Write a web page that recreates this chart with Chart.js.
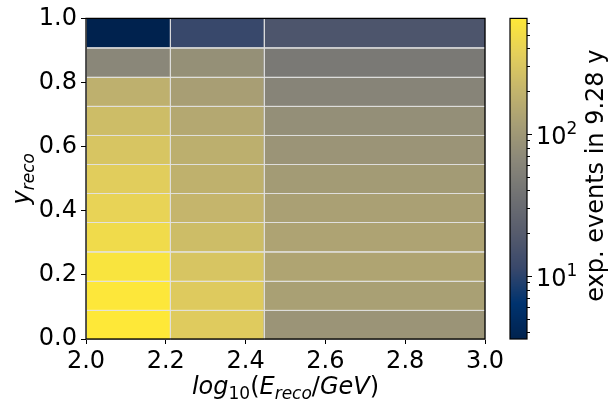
<!DOCTYPE html>
<html>
<head>
<meta charset="utf-8">
<script src="https://cdn.jsdelivr.net/npm/chart.js@4.4.1/dist/chart.umd.min.js"></script>
<style>
  body { margin: 0; background: #fff; }
  #wrap { width: 615px; height: 400px; }
</style>
</head>
<body>
<div id="wrap"><canvas id="hist" width="615" height="400"></canvas></div>
<script>
// Bordes de los bins
const xEdges = [2.0, 2.21, 2.445, 3.0];
const yEdges = [0, 0.0909, 0.1818, 0.2727, 0.3636, 0.4545, 0.5455, 0.6364, 0.7273, 0.8182, 0.9091, 1.0];

// Eventos esperados por bin (de y=0 hacia arriba), una lista por bin de energía
const countsLow  = [650, 633, 586, 476, 399, 348, 290, 242, 182, 65, 3.6];
const countsMid  = [331, 328, 290, 242, 207, 187, 177, 151, 119, 81, 11.3];
const countsHigh = [92, 123, 137, 133, 125, 108, 92, 80, 60, 45, 16.8];
const columns = [countsLow, countsMid, countsHigh];

// Ticks
const xTicks = [2.0, 2.2, 2.4, 2.6, 2.8, 3.0];
const yTicks = [0.0, 0.2, 0.4, 0.6, 0.8, 1.0];
const cbMajor = [10, 100];
const cbMinor = [4, 5, 6, 7, 8, 9, 20, 30, 40, 50, 60, 70, 80, 90, 200, 300, 400, 500, 600];
const cbMin = 3.6;
const cbMax = 650;

const FONT = "'DejaVu Sans'";

// Mapa de colores cividis
const cividis = [
    [0, 34, 78], [0, 51, 111], [57, 72, 107], [87, 92, 109], [112, 113, 115],
    [138, 135, 121], [166, 157, 117], [196, 181, 108], [228, 207, 91], [254, 232, 56]
];

function cmap(t) {
    t = Math.min(1, Math.max(0, t));
    const p = t * (cividis.length - 1);
    const i = Math.min(Math.floor(p), cividis.length - 2);
    const f = p - i;
    const a = cividis[i], b = cividis[i + 1];
    const c = a.map((v, k) => Math.round(v + (b[k] - v) * f));
    return 'rgb(' + c.join(',') + ')';
}

function norm(v) {
    return (Math.log10(v) - Math.log10(cbMin)) / (Math.log10(cbMax) - Math.log10(cbMin));
}

// Texto tipo mathtext: [texto, cursiva, desplazamiento (1 = subíndice, -1 = superíndice)]
function drawMath(ctx, parts, x, y, align) {
    const big = 24, small = 17;
    const fontOf = p => (p[1] ? 'italic ' : '') + (p[2] ? small : big) + 'px ' + FONT;
    let w = 0;
    parts.forEach(p => { ctx.font = fontOf(p); w += ctx.measureText(p[0]).width; });
    let cx = align === 'left' ? x : x - w / 2;
    ctx.textAlign = 'left';
    ctx.textBaseline = 'alphabetic';
    parts.forEach(p => {
        ctx.font = fontOf(p);
        const dy = p[2] === 1 ? 5 : (p[2] === -1 ? -10 : 0);
        ctx.fillText(p[0], cx, y + dy);
        cx += ctx.measureText(p[0]).width;
    });
}

const histPlugin = {
    id: 'hist2d',
    beforeDatasetsDraw(chart) {
        const ctx = chart.ctx;
        const xs = chart.scales.x, ys = chart.scales.y;
        ctx.save();
        columns.forEach((col, i) => {
            const x0 = xs.getPixelForValue(xEdges[i]);
            const x1 = xs.getPixelForValue(xEdges[i + 1]);
            col.forEach((v, j) => {
                const y0 = ys.getPixelForValue(yEdges[j + 1]);
                const y1 = ys.getPixelForValue(yEdges[j]);
                ctx.fillStyle = cmap(norm(v));
                ctx.fillRect(x0, y0, x1 - x0, y1 - y0);
            });
        });
        // bordes de las celdas
        ctx.strokeStyle = 'rgba(225,225,225,0.75)';
        ctx.lineWidth = 1;
        columns.forEach((col, i) => {
            const x0 = xs.getPixelForValue(xEdges[i]);
            const x1 = xs.getPixelForValue(xEdges[i + 1]);
            col.forEach((v, j) => {
                const y0 = ys.getPixelForValue(yEdges[j + 1]);
                const y1 = ys.getPixelForValue(yEdges[j]);
                ctx.strokeRect(Math.round(x0) + 0.5, Math.round(y0) + 0.5, Math.round(x1 - x0), Math.round(y1 - y0));
            });
        });
        ctx.restore();
    },
    afterDraw(chart) {
        const ctx = chart.ctx;
        const a = chart.chartArea;
        const cb = chart.scales.cb;
        ctx.save();

        // marco del gráfico
        ctx.strokeStyle = '#000';
        ctx.lineWidth = 1.3;
        ctx.strokeRect(a.left, a.top, a.right - a.left, a.bottom - a.top);

        // barra de color
        const cbLeft = 510, cbRight = 527;
        for (let py = Math.floor(cb.top); py < cb.bottom; py++) {
            ctx.fillStyle = cmap(norm(cb.getValueForPixel(py + 0.5)));
            ctx.fillRect(cbLeft, py, cbRight - cbLeft, 1);
        }
        ctx.lineWidth = 1.2;
        ctx.strokeRect(cbLeft, cb.top, cbRight - cbLeft, cb.bottom - cb.top);

        ctx.lineWidth = 1;
        ctx.fillStyle = '#000';
        cbMinor.forEach(v => {
            const py = Math.round(cb.getPixelForValue(v)) + 0.5;
            ctx.beginPath(); ctx.moveTo(cbRight, py); ctx.lineTo(cbRight + 3, py); ctx.stroke();
        });
        cbMajor.forEach(v => {
            const py = Math.round(cb.getPixelForValue(v)) + 0.5;
            ctx.beginPath(); ctx.moveTo(cbRight, py); ctx.lineTo(cbRight + 5, py); ctx.stroke();
            drawMath(ctx, [['10', false, 0], [String(Math.round(Math.log10(v))), false, -1]], 536, py + 9, 'left');
        });

        // título de la barra
        ctx.save();
        ctx.translate(603, (cb.top + cb.bottom) / 2 - 3);
        ctx.rotate(-Math.PI / 2);
        drawMath(ctx, [['exp. events in 9.28 y', false, 0]], 0, 0, 'center');
        ctx.restore();

        // títulos de los ejes
        drawMath(ctx, [
            ['log', true, 0], ['10', false, 1], ['(', false, 0], ['E', true, 0], ['reco', true, 1],
            ['/', false, 0], ['GeV', true, 0], [')', false, 0]
        ], (a.left + a.right) / 2, 394, 'center');

        ctx.save();
        ctx.translate(29, (a.top + a.bottom) / 2);
        ctx.rotate(-Math.PI / 2);
        drawMath(ctx, [['y', true, 0], ['reco', true, 1]], 0, 0, 'center');
        ctx.restore();

        ctx.restore();
    }
};

const tickFont = { family: FONT, size: 24 };

new Chart(document.getElementById('hist'), {
    type: 'scatter',
    data: { datasets: [] },
    options: {
        responsive: false,
        animation: false,
        devicePixelRatio: 1,
        layout: { padding: { top: 18, right: 130, left: 0, bottom: 0 } },
        plugins: { legend: { display: false }, tooltip: { enabled: false } },
        scales: {
            x: {
                type: 'linear', min: 2, max: 3,
                afterBuildTicks: s => { s.ticks = xTicks.map(v => ({ value: v })); },
                afterFit: s => { s.height = 61; },
                ticks: { font: tickFont, color: '#000', padding: 3, maxRotation: 0, autoSkip: false,
                         callback: v => v.toFixed(1) },
                grid: { display: true, drawOnChartArea: false, drawTicks: true, tickLength: 5, color: '#000' },
                border: { display: true, color: '#000' }
            },
            y: {
                type: 'linear', min: 0, max: 1,
                afterBuildTicks: s => { s.ticks = yTicks.map(v => ({ value: v })); },
                afterFit: s => { s.width = 86; },
                ticks: { font: tickFont, color: '#000', padding: 4, autoSkip: false,
                         callback: v => v.toFixed(1) },
                grid: { display: true, drawOnChartArea: false, drawTicks: true, tickLength: 5, color: '#000' },
                border: { display: true, color: '#000' }
            },
            cb: {
                type: 'logarithmic', axis: 'y', position: 'right', display: false,
                min: cbMin, max: cbMax
            }
        }
    },
    plugins: [histPlugin]
});
</script>
</body>
</html>
